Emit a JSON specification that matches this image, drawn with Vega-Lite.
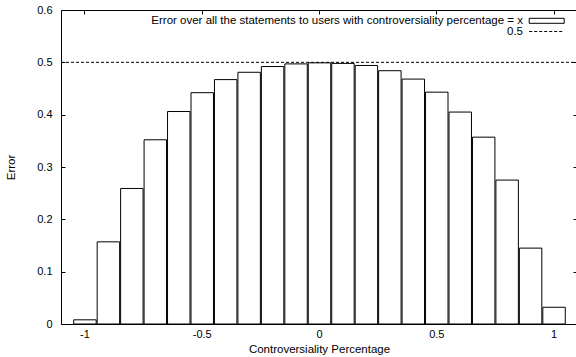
{
  "$schema": "https://vega.github.io/schema/vega-lite/v6.json",
  "width": 516,
  "height": 314,
  "autosize": {"type": "none"},
  "padding": {"left": 61, "top": 10, "right": 0, "bottom": 33},
  "background": "white",
  "config": {
    "font": "Liberation Sans",
    "view": {"stroke": "black", "strokeWidth": 1},
    "axis": {
      "domain": false,
      "grid": false,
      "ticks": true,
      "tickColor": "black",
      "tickSize": -4,
      "tickWidth": 1,
      "labelFont": "Liberation Sans",
      "labelFontSize": 11,
      "labelColor": "black",
      "titleFont": "Liberation Sans",
      "titleFontSize": 11.5,
      "titleFontWeight": "normal",
      "titleColor": "black"
    },
    "legend": {
      "orient": "none",
      "title": null,
      "padding": 0,
      "rowPadding": 0,
      "symbolSize": 16,
      "symbolStrokeWidth": 1,
      "symbolStrokeColor": "black",
      "labelAlign": "right",
      "labelOffset": -29.45,
      "labelLimit": 1000,
      "labelFont": "Liberation Sans",
      "labelFontSize": 11.5,
      "labelColor": "black"
    }
  },
  "datasets": {
    "bars": [
      {"series": "Error over all the statements to users with controversiality percentage = x", "bin_start": -1.05, "bin_end": -0.95, "error": 0.008},
      {"series": "Error over all the statements to users with controversiality percentage = x", "bin_start": -0.95, "bin_end": -0.85, "error": 0.157},
      {"series": "Error over all the statements to users with controversiality percentage = x", "bin_start": -0.85, "bin_end": -0.75, "error": 0.259},
      {"series": "Error over all the statements to users with controversiality percentage = x", "bin_start": -0.75, "bin_end": -0.65, "error": 0.352},
      {"series": "Error over all the statements to users with controversiality percentage = x", "bin_start": -0.65, "bin_end": -0.55, "error": 0.406},
      {"series": "Error over all the statements to users with controversiality percentage = x", "bin_start": -0.55, "bin_end": -0.45, "error": 0.442},
      {"series": "Error over all the statements to users with controversiality percentage = x", "bin_start": -0.45, "bin_end": -0.35, "error": 0.467},
      {"series": "Error over all the statements to users with controversiality percentage = x", "bin_start": -0.35, "bin_end": -0.25, "error": 0.481},
      {"series": "Error over all the statements to users with controversiality percentage = x", "bin_start": -0.25, "bin_end": -0.15, "error": 0.492},
      {"series": "Error over all the statements to users with controversiality percentage = x", "bin_start": -0.15, "bin_end": -0.05, "error": 0.497},
      {"series": "Error over all the statements to users with controversiality percentage = x", "bin_start": -0.05, "bin_end": 0.05, "error": 0.499},
      {"series": "Error over all the statements to users with controversiality percentage = x", "bin_start": 0.05, "bin_end": 0.15, "error": 0.498},
      {"series": "Error over all the statements to users with controversiality percentage = x", "bin_start": 0.15, "bin_end": 0.25, "error": 0.494},
      {"series": "Error over all the statements to users with controversiality percentage = x", "bin_start": 0.25, "bin_end": 0.35, "error": 0.484},
      {"series": "Error over all the statements to users with controversiality percentage = x", "bin_start": 0.35, "bin_end": 0.45, "error": 0.468},
      {"series": "Error over all the statements to users with controversiality percentage = x", "bin_start": 0.45, "bin_end": 0.55, "error": 0.443},
      {"series": "Error over all the statements to users with controversiality percentage = x", "bin_start": 0.55, "bin_end": 0.65, "error": 0.405},
      {"series": "Error over all the statements to users with controversiality percentage = x", "bin_start": 0.65, "bin_end": 0.75, "error": 0.357},
      {"series": "Error over all the statements to users with controversiality percentage = x", "bin_start": 0.75, "bin_end": 0.85, "error": 0.275},
      {"series": "Error over all the statements to users with controversiality percentage = x", "bin_start": 0.85, "bin_end": 0.95, "error": 0.145},
      {"series": "Error over all the statements to users with controversiality percentage = x", "bin_start": 0.95, "bin_end": 1.05, "error": 0.032}
    ],
    "ref": [
      {"series": "0.5", "from": -1.1, "to": 1.1, "error": 0.5}
    ]
  },
  "layer": [
    {
      "data": {"name": "bars"},
      "mark": {"type": "bar", "stroke": "black", "strokeWidth": 1},
      "encoding": {
        "x": {
          "field": "bin_start",
          "type": "quantitative",
          "bin": "binned",
          "scale": {"domain": [-1.1, 1.1], "nice": false, "zero": false},
          "axis": {
            "orient": "bottom",
            "values": [-1, -0.5, 0, 0.5, 1],
            "labelExpr": "toString(datum.value)",
            "title": "Controversiality Percentage",
            "labelPadding": 8,
            "titlePadding": 4
          }
        },
        "x2": {"field": "bin_end"},
        "y": {
          "field": "error",
          "type": "quantitative",
          "scale": {"domain": [0, 0.6], "nice": false},
          "axis": {
            "orient": "left",
            "values": [0, 0.1, 0.2, 0.3, 0.4, 0.5, 0.6],
            "labelExpr": "toString(datum.value)",
            "title": "Error",
            "labelPadding": 13,
            "titlePadding": 20
          }
        },
        "fill": {
          "field": "series",
          "type": "nominal",
          "scale": {"range": ["white"]},
          "legend": {
            "legendX": 479.95,
            "legendY": 5.05,
            "symbolType": "M-8.75,-1.25H8.75V1.25H-8.75Z",
            "symbolFillColor": "white"
          }
        }
      }
    },
    {
      "data": {"name": "ref"},
      "mark": {"type": "rule", "strokeWidth": 1, "strokeDash": [3, 2]},
      "encoding": {
        "x": {
          "field": "from",
          "type": "quantitative",
          "scale": {"domain": [-1.1, 1.1], "nice": false, "zero": false},
          "axis": {"orient": "top", "values": [-1, -0.5, 0, 0.5, 1], "labels": false, "title": null}
        },
        "x2": {"field": "to"},
        "y": {
          "field": "error",
          "type": "quantitative",
          "scale": {"domain": [0, 0.6], "nice": false},
          "axis": {"orient": "right", "values": [0, 0.1, 0.2, 0.3, 0.4, 0.5, 0.6], "labels": false, "title": null}
        },
        "stroke": {
          "field": "series",
          "type": "nominal",
          "scale": {"range": ["black"]},
          "legend": {
            "legendX": 479.95,
            "legendY": 15.75,
            "symbolType": "M-8.75,0H8.75",
            "symbolDash": [3, 2]
          }
        }
      }
    }
  ],
  "resolve": {
    "scale": {"x": "independent", "y": "independent", "fill": "independent", "stroke": "independent"},
    "axis": {"x": "independent", "y": "independent"}
  }
}
